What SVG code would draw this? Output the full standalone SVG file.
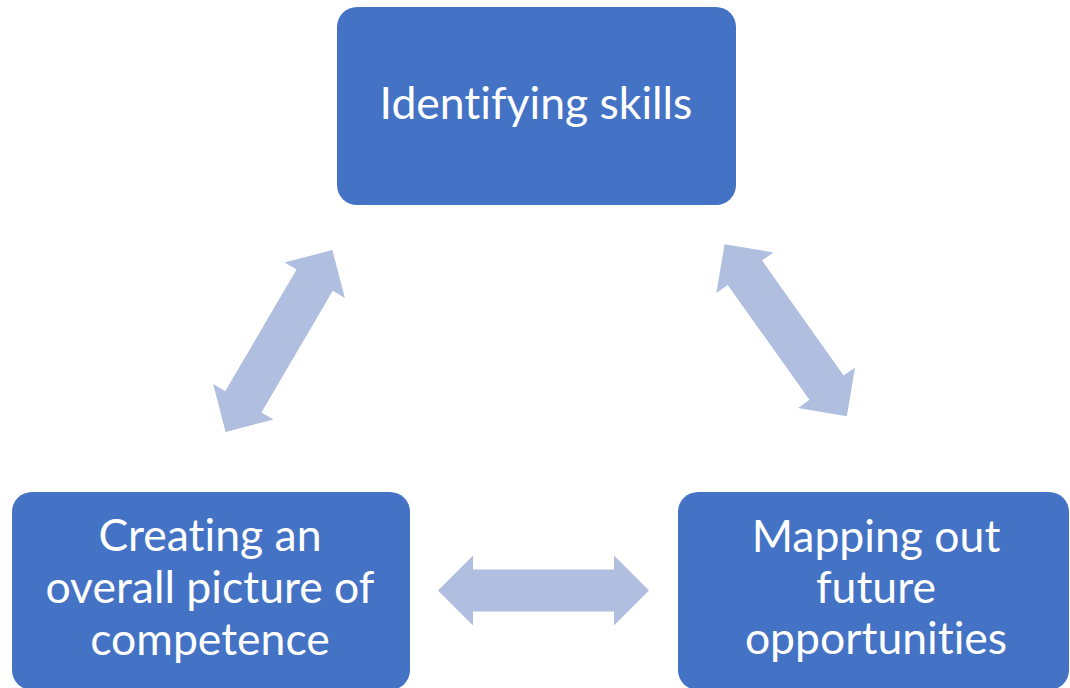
<svg xmlns="http://www.w3.org/2000/svg" width="1070" height="688" viewBox="0 0 1070 688">
  <style>
    .box { fill: #4472C4; }
    .lbl { fill: #FFFFFF; font-family: Lato, "Open Sans", "Liberation Sans", sans-serif; font-size: 44.5px; text-anchor: middle; font-variant-ligatures: none; font-feature-settings: "liga" 0, "clig" 0; }
    .arr { fill: #B0BEE0; }
  </style>
  <defs>
    <path id="dbl" d="M -105.5,0 L -70.5,-35 L -70.5,-21 L 70.5,-21 L 70.5,-35 L 105.5,0 L 70.5,35 L 70.5,21 L -70.5,21 L -70.5,35 Z"/>
  </defs>
  <rect width="1070" height="688" fill="#FFFFFF"/>
  <g id="connectors">
    <use href="#dbl" class="arr" transform="translate(279,341) rotate(-59.6)"/>
    <use href="#dbl" class="arr" transform="translate(785.7,330.2) rotate(54.6)"/>
    <use href="#dbl" class="arr" transform="translate(543.5,590.5)"/>
  </g>
  <g id="node-identifying">
    <rect class="box" x="337" y="7" width="399" height="198" rx="20"/>
    <text class="lbl" x="536" y="119">Identifying skills</text>
  </g>
  <g id="node-creating">
    <rect class="box" x="12" y="492" width="398" height="198" rx="20"/>
    <text class="lbl" x="210" y="551">Creating an</text>
    <text class="lbl" x="210" y="603">overall picture of</text>
    <text class="lbl" x="210" y="655">competence</text>
  </g>
  <g id="node-mapping">
    <rect class="box" x="678" y="492" width="391" height="198" rx="20"/>
    <text class="lbl" x="876" y="552">Mapping out</text>
    <text class="lbl" x="876" y="603">future</text>
    <text class="lbl" x="876" y="654">opportunities</text>
  </g>
</svg>
